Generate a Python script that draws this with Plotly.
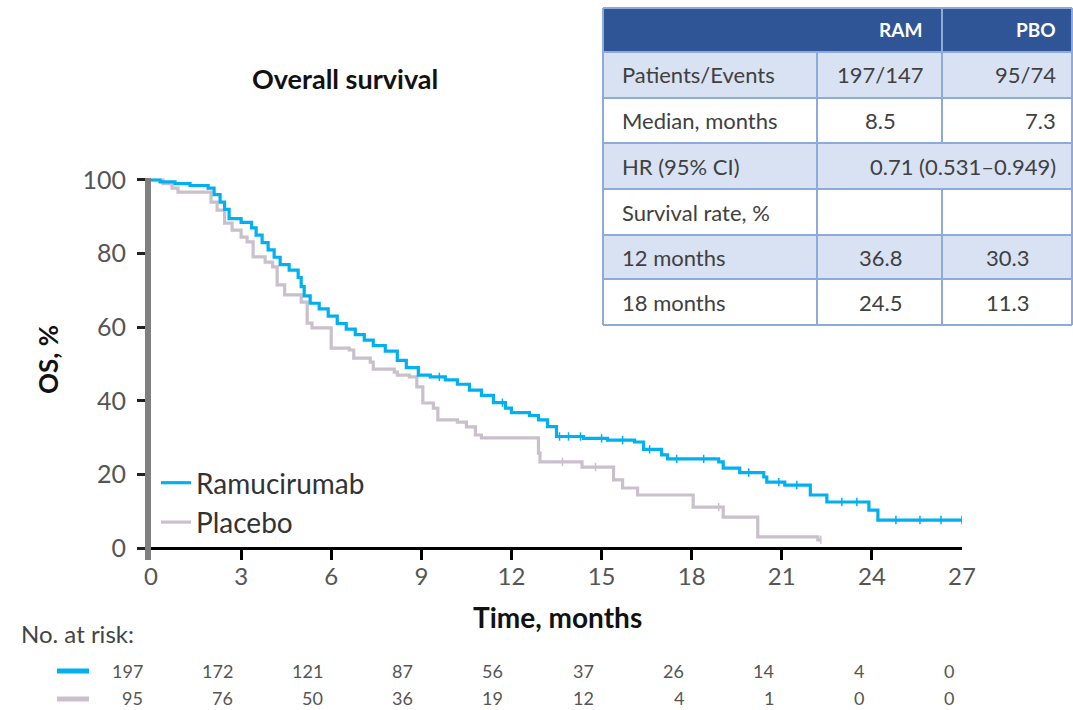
import plotly.graph_objects as go

# ---------------- data ----------------
ram_t = [0, 0.3, 0.8, 1.3, 1.9, 2.1, 2.3, 2.45, 2.6, 3.0, 3.35, 3.5, 3.7, 3.9, 4.1, 4.3, 4.6, 4.9,
         5.0, 5.1, 5.3, 5.6, 5.9, 6.2, 6.5, 6.8, 7.1, 7.4, 7.8, 8.2, 8.5, 8.9, 9.3, 9.8, 10.2, 10.6,
         11.0, 11.4, 11.8, 12.0, 12.6, 12.9, 13.2, 13.5, 14.4, 15.2, 16.1, 16.4, 17.0, 17.2, 18.9,
         19.05, 19.6, 20.4, 20.5, 21.1, 21.95, 22.5, 23.9, 24.2, 27.0]
ram_s = [100, 99.5, 99, 98.5, 97.8, 96, 94, 92, 89.5, 88.5, 87, 85, 83, 81, 79, 77, 75.5, 73.5,
         71, 68.5, 66.5, 65, 63, 61, 59.5, 58, 56.5, 55, 53.5, 51, 49, 47, 46.5, 45.7, 44.5, 42.9,
         41.5, 39.5, 38, 36.8, 36, 34.8, 33, 30.3, 29.8, 29.3, 28.8, 26.8, 25.3, 24.2, 23.4,
         21.7, 20.5, 19.3, 17.9, 17.1, 14.4, 12.5, 10.3, 7.6, 7.6]
ram_censor = [9.6, 11.7, 13.6, 13.9, 14.3, 15.0, 15.7, 16.6, 17.5, 18.4, 19.9, 20.9, 21.5, 23.0, 23.5,
              24.8, 25.6, 26.3, 27.0]

pbo_t = [0, 0.4, 0.7, 0.9, 2.0, 2.2, 2.45, 2.7, 3.0, 3.2, 3.4, 3.8, 4.05, 4.2, 4.45, 5.0, 5.2, 5.36,
         6.0, 6.6, 6.75, 7.3, 7.4, 8.1, 8.2, 8.6, 8.85, 9.05, 9.4, 9.55, 10.2, 10.5, 10.8, 11.0,
         12.9, 12.95, 14.35, 15.4, 15.7, 16.2, 18.05, 19.05, 20.2, 22.2, 22.3]
pbo_s = [100, 99, 97.8, 96.7, 94, 91.8, 88.3, 86.4, 84.5, 83.2, 79.1, 77.7, 76.4, 71.5, 68.8, 66.8, 61.1, 59.8,
         54.3, 53.8, 51.6, 50.5, 48.6, 47.8, 47.0, 46.5, 43.8, 39.4, 38.0, 34.8, 34.2, 32.9, 30.7, 29.9,
         25.8, 23.4, 22.0, 18.5, 16.3, 14.4, 11.1, 8.4, 3.0, 2.2, 2.2]
pbo_censor = [13.7, 14.8, 18.9, 22.3]

x_ticks = [0, 3, 6, 9, 12, 15, 18, 21, 24, 27]
y_ticks = [0, 20, 40, 60, 80, 100]

risk_times = [0, 3, 6, 9, 12, 15, 18, 21, 24, 27]
risk_ram = [197, 172, 121, 87, 56, 37, 26, 14, 4, 0]
risk_pbo = [95, 76, 50, 36, 19, 12, 4, 1, 0, 0]

tbl_header = ["", "RAM", "PBO"]
tbl_labels = ["Patients/Events", "Median, months", "HR (95% CI)", "Survival rate, %", "12 months", "18 months"]
tbl_ram = ["197/147", "8.5", None, "", "36.8", "24.5"]
tbl_pbo = ["95/74", "7.3", None, "", "30.3", "11.3"]
tbl_hr = "0.71 (0.531\u20130.949)"


def step_at(ts, ss, t):
    v = ss[0]
    for ti, si in zip(ts, ss):
        if ti <= t:
            v = si
    return v


# ---------------- layout helpers ----------------
W, H = 1073, 710
def fx(p):
    return p / W
def fy(p):
    return 1 - p / H

BLUE = "#00B0F0"
GREY = "#C9C0CC"
FONT = "Lato"

fig = go.Figure()
fig.add_trace(go.Scatter(x=pbo_t, y=pbo_s, mode="lines", line=dict(shape="hv", color=GREY, width=3.2),
                         name="Placebo", legendrank=2))
fig.add_trace(go.Scatter(x=pbo_censor, y=[step_at(pbo_t, pbo_s, t) for t in pbo_censor], mode="markers",
                         marker=dict(symbol="line-ns", size=6, line=dict(color=GREY, width=1.5)),
                         showlegend=False, hoverinfo="skip"))
fig.add_trace(go.Scatter(x=ram_t, y=ram_s, mode="lines", line=dict(shape="hv", color=BLUE, width=3.2),
                         name="Ramucirumab", legendrank=1))
fig.add_trace(go.Scatter(x=ram_censor, y=[step_at(ram_t, ram_s, t) for t in ram_censor], mode="markers",
                         marker=dict(symbol="line-ns", size=6, line=dict(color=BLUE, width=1.5)),
                         showlegend=False, hoverinfo="skip"))

y_lo, y_hi = -3.26, 100.54
fig.update_layout(
    width=W, height=H, autosize=False,
    margin=dict(l=0, r=0, t=0, b=0),
    paper_bgcolor="white", plot_bgcolor="white",
    font=dict(family=FONT, color="#333"),
    xaxis=dict(domain=[fx(151), fx(962)], range=[0, 27], tickvals=x_ticks,
               ticks="inside", ticklen=12, tickwidth=3, tickcolor="black",
               showline=False, showgrid=False, zeroline=False, automargin=False,
               tickfont=dict(size=24, color="#555", family=FONT)),
    yaxis=dict(domain=[fy(560), fy(178)], range=[y_lo, y_hi], tickvals=y_ticks,
               ticks="outside", ticklen=8, tickwidth=3, tickcolor="#222",
               showline=True, linecolor="#808080", linewidth=6,
               zeroline=True, zerolinecolor="black", zerolinewidth=3,
               showgrid=False, automargin=False, ticklabelstandoff=6,
               tickfont=dict(size=25, color="#555", family=FONT)),
    legend=dict(x=fx(156), y=fy(458), xanchor="left", yanchor="top", xref="paper", yref="paper",
                bgcolor="rgba(0,0,0,0)", font=dict(size=28, color="#333", family=FONT),
                tracegroupgap=0),
    showlegend=True,
)

ann = []
def add_text(text, x, y, size, color, xanchor="center", xref="paper", xshift=0, angle=0):
    ann.append(dict(text=text, x=x, y=y, xref=xref, yref="paper", xanchor=xanchor, yanchor="middle",
                    xshift=xshift, textangle=angle, showarrow=False,
                    font=dict(size=size, color=color, family=FONT)))

add_text("<b>Overall survival</b>", fx(345), fy(79), 27, "#111")
add_text("<b>Time, months</b>", fx(557), fy(617), 28, "#111")
add_text("<b>OS, %</b>", fx(48), fy(360), 26, "#111", angle=-90)
add_text("No. at risk:", fx(19), fy(633), 24, "#444", xanchor="left")
for t, a, b in zip(risk_times, risk_ram, risk_pbo):
    add_text(str(a), t, fy(671), 18, "#555", xanchor="right", xref="x", xshift=-6)
    add_text(str(b), t, fy(698), 18, "#555", xanchor="right", xref="x", xshift=-6)

shapes = []
shapes.append(dict(type="line", xref="paper", yref="paper", x0=fx(57), x1=fx(89), y0=fy(671), y1=fy(671),
                   line=dict(color=BLUE, width=5)))
shapes.append(dict(type="line", xref="paper", yref="paper", x0=fx(57), x1=fx(89), y0=fy(699), y1=fy(699),
                   line=dict(color=GREY, width=5)))

# ---------------- summary table ----------------
row_y = [8, 52, 98, 143, 189, 235, 279, 325]
col_x = [603, 817, 942, 1072]
LINE = "#8EAADB"
HEAD = "#2F5597"
LIGHT = "#D9E2F3"
TXT = "#404040"

shapes.append(dict(type="rect", xref="paper", yref="paper", x0=fx(col_x[0]), x1=fx(col_x[3]),
                   y0=fy(row_y[0]), y1=fy(row_y[1]), fillcolor=HEAD, line=dict(width=0), layer="below"))
for i in range(len(tbl_labels)):
    fill = LIGHT if i % 2 == 0 else "white"
    shapes.append(dict(type="rect", xref="paper", yref="paper", x0=fx(col_x[0]), x1=fx(col_x[3]),
                       y0=fy(row_y[i + 1]), y1=fy(row_y[i + 2]), fillcolor=fill, line=dict(width=0), layer="below"))
for yy in row_y:
    shapes.append(dict(type="line", xref="paper", yref="paper", x0=fx(col_x[0]), x1=fx(col_x[3]),
                       y0=fy(yy), y1=fy(yy), line=dict(color=LINE, width=2)))
for xx in [col_x[0], col_x[3]]:
    shapes.append(dict(type="line", xref="paper", yref="paper", x0=fx(xx), x1=fx(xx),
                       y0=fy(row_y[0]), y1=fy(row_y[-1]), line=dict(color=LINE, width=2)))
shapes.append(dict(type="line", xref="paper", yref="paper", x0=fx(col_x[1]), x1=fx(col_x[1]),
                   y0=fy(row_y[1]), y1=fy(row_y[-1]), line=dict(color=LINE, width=2)))
shapes.append(dict(type="line", xref="paper", yref="paper", x0=fx(col_x[2]), x1=fx(col_x[2]),
                   y0=fy(row_y[0]), y1=fy(row_y[3]), line=dict(color=LINE, width=2)))
shapes.append(dict(type="line", xref="paper", yref="paper", x0=fx(col_x[2]), x1=fx(col_x[2]),
                   y0=fy(row_y[4]), y1=fy(row_y[-1]), line=dict(color=LINE, width=2)))

hy = (row_y[0] + row_y[1]) / 2
add_text("<b>" + tbl_header[1] + "</b>", fx(924), fy(hy), 19, "white", xanchor="right")
add_text("<b>" + tbl_header[2] + "</b>", fx(1058), fy(hy), 19, "white", xanchor="right")
for i, lab in enumerate(tbl_labels):
    cy = (row_y[i + 1] + row_y[i + 2]) / 2
    add_text(lab, fx(620), fy(cy), 22, TXT, xanchor="left")
    if tbl_ram[i] is None:
        add_text(tbl_hr, fx(1058), fy(cy), 22, TXT, xanchor="right")
        continue
    if tbl_ram[i]:
        add_text(tbl_ram[i], fx(880), fy(cy), 22, TXT)
    if tbl_pbo[i]:
        if i < 2:
            add_text(tbl_pbo[i], fx(1058), fy(cy), 22, TXT, xanchor="right")
        else:
            add_text(tbl_pbo[i], fx(1007), fy(cy), 22, TXT)

fig.update_layout(annotations=ann, shapes=shapes)
fig.write_html("out.html")
